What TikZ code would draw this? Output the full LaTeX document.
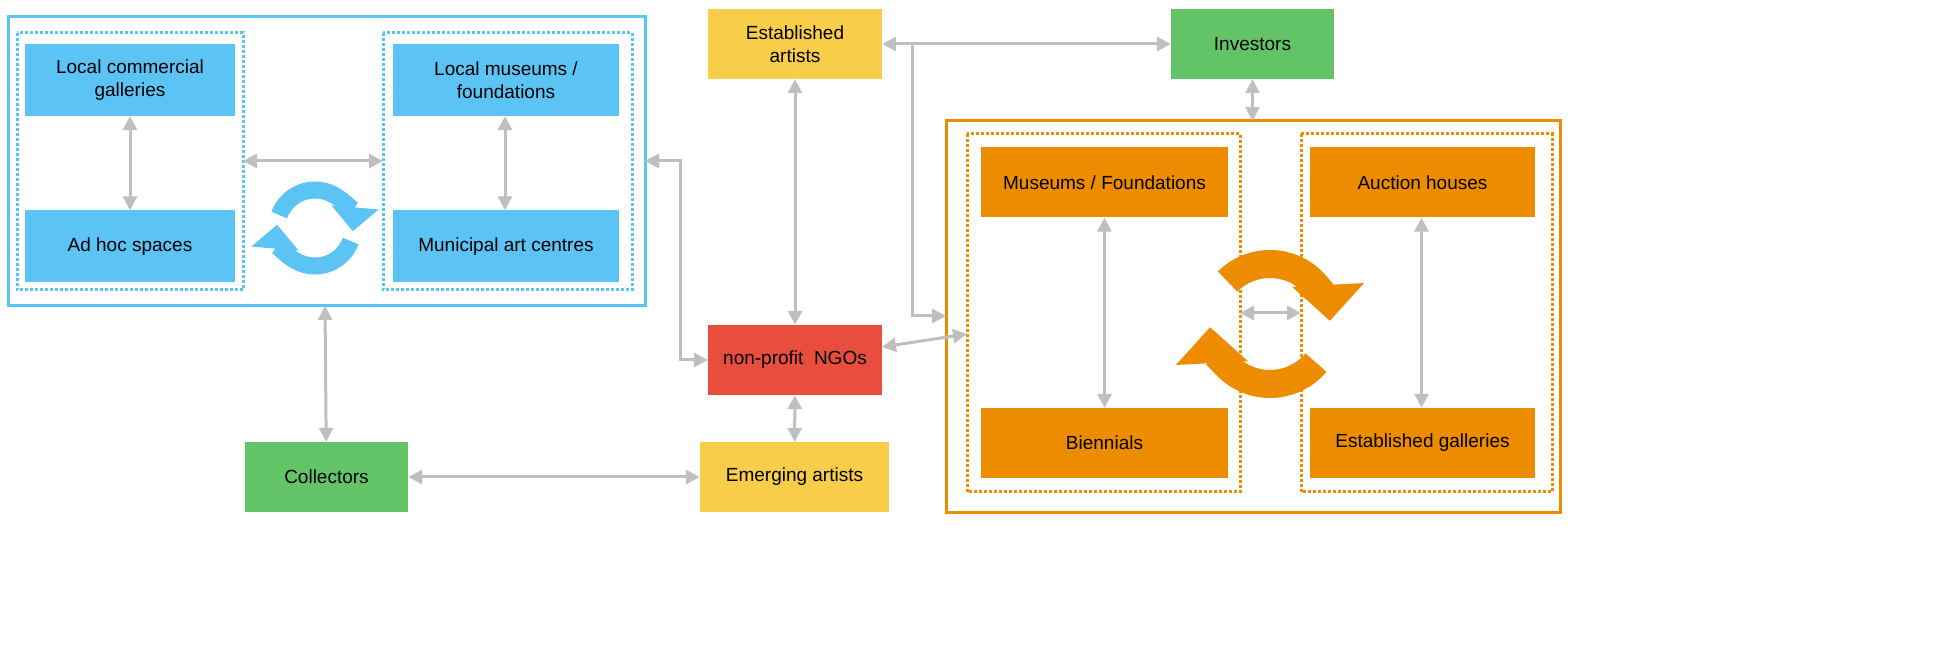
\documentclass[border=0pt]{standalone}
\usepackage{tikz}
\usepackage{graphicx}
\usepackage{fontspec}
\setmainfont{Liberation Sans}
\usetikzlibrary{arrows.meta}
\definecolor{cblue}{HTML}{5BC4F5}
\definecolor{corange}{HTML}{EE8C00}
\definecolor{cyellow}{HTML}{F7CD4A}
\definecolor{cgreen}{HTML}{62C466}
\definecolor{cred}{HTML}{E84D3D}
\definecolor{cgray}{HTML}{BFBFBF}
\begin{document}
\scalebox{0.5}{%
\begin{tikzpicture}[x=1pt,y=-1pt,
  box/.style={inner sep=0pt,align=center,font=\fontsize{19}{23}\selectfont},
  con/.style={draw=cgray,line width=3pt,{Triangle[width=14pt,length=14pt]}-{Triangle[width=14pt,length=14pt]}},
  con1/.style={draw=cgray,line width=3pt,-{Triangle[width=14pt,length=14pt]}}]
% blue group
\draw[cblue,line width=3pt] (8,17) rectangle (645,306);
\draw[cblue,line width=3pt,dotted] (17,33) rectangle (243,290);
\draw[cblue,line width=3pt,dotted] (383,33) rectangle (632,290);
\tikzset{bb/.style={box,fill=cblue,minimum width=210pt,minimum height=72pt}}
\node[bb] (lcg) at (130,80) {Local commercial\\galleries};
\node[bb] (ahs) at (130,246.5) {Ad hoc spaces};
\node[bb,minimum width=226pt] (lmf) at (506,80) {Local museums /\\foundations};
\node[bb,minimum width=226pt] (mac) at (506,246.5) {Municipal art centres};
\coordinate (bl) at (243,161); \coordinate (br) at (383,161);
\draw[con] (lcg) -- (ahs);
\draw[con] ([xshift=-1pt]lmf.south) -- ([xshift=-1pt]mac.north);
\draw[con] (bl) -- (br);
% blue recycle
\begin{scope}[shift={(315,228)},y=1pt]
\draw[cblue,line width=17pt,-{Triangle[width=46pt,length=24pt]}] (160:38) arc (160:-5:38);
\draw[cblue,line width=17pt,-{Triangle[width=46pt,length=24pt]}] (-20:38) arc (-20:-185:38);
\end{scope}
% orange group
\draw[corange,line width=3pt] (946,121) rectangle (1560,513);
\draw[corange,line width=3pt,dotted] (967,134) rectangle (1240,492);
\draw[corange,line width=3pt,dotted] (1301,134) rectangle (1552,492);
\tikzset{ob/.style={box,fill=corange,minimum width=247pt,minimum height=70pt}}
\node[ob] (mf) at (1104.5,182.5) {Museums / Foundations};
\node[ob] (bi) at (1104.5,443) {Biennials};
\node[ob,minimum width=225pt] (ah) at (1422.5,182.5) {Auction houses};
\node[ob,minimum width=225pt] (eg) at (1422.5,443) {Established galleries};
% orange recycle
\begin{scope}[shift={(1270,324)},y=1pt]
\draw[corange,line width=28pt,-{Triangle[width=70pt,length=36pt]}] (135:60) arc (135:3:60);
\draw[corange,line width=28pt,-{Triangle[width=70pt,length=36pt]}] (-40:60) arc (-40:-177:60);
\end{scope}
\coordinate (ol) at (1240,313); \coordinate (or) at (1301,313);
\draw[con] (mf) -- (bi);
\draw[con] ([xshift=-1pt]ah.south) -- ([xshift=-1pt]eg.north);
\draw[con] (ol) -- (or);
% other nodes
\node[box,fill=cyellow,minimum width=174pt,minimum height=70pt] (ea) at (795,44) {Established\\artists};
\node[box,fill=cgreen,minimum width=163pt,minimum height=70pt] (inv) at (1252.5,44) {Investors};
\node[box,fill=cred,minimum width=174pt,minimum height=70pt] (ngo) at (795,360) {non-profit~ NGOs};
\node[box,fill=cgreen,minimum width=163pt,minimum height=70pt] (col) at (326.5,477) {Collectors};
\node[box,fill=cyellow,minimum width=189pt,minimum height=70pt] (em) at (794.5,477) {Emerging artists};
% connectors
\coordinate (obtop) at (1252.5,121);
\coordinate (obl) at (946,316);
\coordinate (odl) at (967,334);
\coordinate (ngoe) at (882,347);
\coordinate (bbr) at (645,161);
\coordinate (bbb) at (325,306);
\coordinate (eab) at (912,44);
\draw[con] (ea) -- (inv);
\draw[con] (ea) -- (ngo);
\draw[con] (inv) -- (obtop);
\draw[con1] (eab) |- (obl);
\draw[con] (ngoe) -- (odl);
\draw[con] (ngo.west) -| (680,161) -- (bbr);
\draw[con] (ngo) -- (em);
\draw[con] (col) -- (em);
\draw[con] (bbb) -- (col);
\pgfresetboundingbox
\path[use as bounding box] (0,0) rectangle (1935,646);
\end{tikzpicture}}
\end{document}
